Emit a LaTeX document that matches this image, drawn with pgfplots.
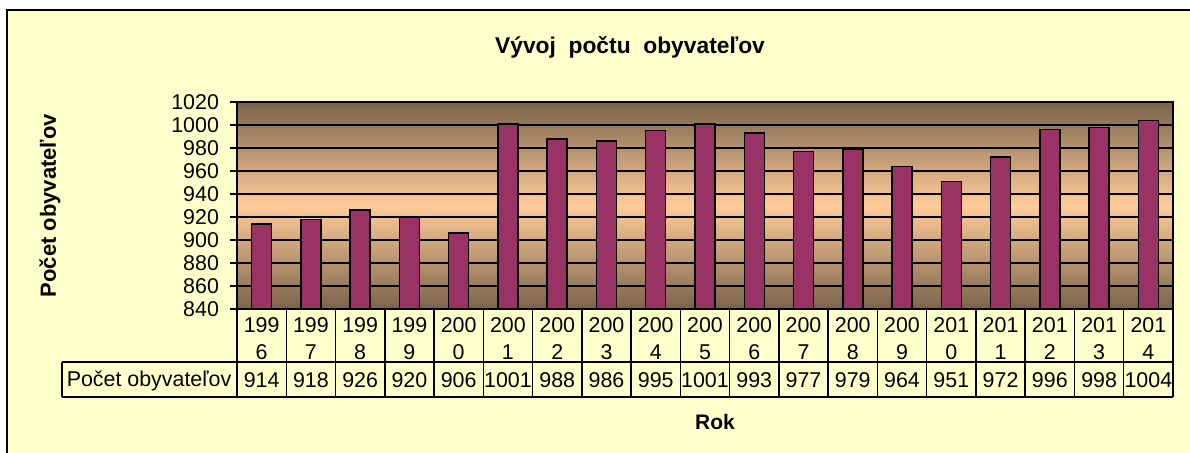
\documentclass[border=0pt]{standalone}
\usepackage{pgfplots}
\pgfplotsset{compat=1.18}
\usepackage{pgfplotstable}
\usepackage{fontspec}
\setmainfont{Liberation Sans}
\definecolor{bgyellow}{HTML}{FFFFCC}
\definecolor{darkbrown}{HTML}{7A634B}
\definecolor{peach}{HTML}{FFCC99}
\definecolor{barcol}{HTML}{993366}
\pgfplotstableread{
x y
0 914
1 918
2 926
3 920
4 906
5 1001
6 988
7 986
8 995
9 1001
10 993
11 977
12 979
13 964
14 951
15 972
16 996
17 998
18 1004
}\data
\begin{document}
\begin{tikzpicture}
\useasboundingbox (0,0) rectangle (595pt,226.5pt);
\fill[bgyellow] (3.5pt,-20pt) rectangle (700pt,221.5pt);
\draw[line width=1pt] (3.5pt,-20pt) -- (3.5pt,221.5pt) -- (700pt,221.5pt);
\begin{axis}[
  at={(118.5pt,72pt)}, anchor=south west,
  scale only axis, width=468pt, height=103.5pt,
  xmin=-0.5, xmax=18.5, ymin=840, ymax=1020,
  ytick={840,860,...,1020},
  xtick={0,...,18},
  xticklabels={{199\\[2.5pt]6\\[3pt]914},{199\\[2.5pt]7\\[3pt]918},{199\\[2.5pt]8\\[3pt]926},{199\\[2.5pt]9\\[3pt]920},{200\\[2.5pt]0\\[3pt]906},{200\\[2.5pt]1\\[3pt]1001},{200\\[2.5pt]2\\[3pt]988},{200\\[2.5pt]3\\[3pt]986},{200\\[2.5pt]4\\[3pt]995},{200\\[2.5pt]5\\[3pt]1001},{200\\[2.5pt]6\\[3pt]993},{200\\[2.5pt]7\\[3pt]977},{200\\[2.5pt]8\\[3pt]979},{200\\[2.5pt]9\\[3pt]964},{201\\[2.5pt]0\\[3pt]951},{201\\[2.5pt]1\\[3pt]972},{201\\[2.5pt]2\\[3pt]996},{201\\[2.5pt]3\\[3pt]998},{201\\[2.5pt]4\\[3pt]1004}},
  xticklabel style={anchor=north, align=center, inner sep=0pt, yshift=-0.5pt, font=\fontsize{10.7}{11}\selectfont},
  x tick style={draw=none},
  yticklabel style={font=\fontsize{10.7}{12.8}\selectfont, xshift=-2pt},
  /pgf/number format/assume math mode=true,
  /pgf/number format/set thousands separator={},
  ytick pos=left, tick align=outside, major tick length=3.5pt,
  tick style={black, line width=0.75pt},
  ymajorgrids, grid style={black, line width=0.75pt},
  axis line style={black, line width=1pt},
  axis background/.style={top color=darkbrown, bottom color=darkbrown, middle color=peach},
  ybar, bar width=10pt,
  ylabel={Počet obyvateľov},
  every axis y label/.style={at={(axis description cs:-0.1998,0.5)}, rotate=90, anchor=center, font=\bfseries\fontsize{11}{13}\selectfont},
  xlabel={Rok},
  every axis x label/.style={at={(axis description cs:0.5107,-0.546)}, anchor=center, font=\bfseries\fontsize{10.5}{12}\selectfont},
  title={Vývoj\ \ počtu\ \ obyvateľov},
  every axis title/.style={at={(axis description cs:0.4199,1.2657)}, anchor=center, font=\bfseries\fontsize{11.4}{13}\selectfont},
]
\addplot[fill=barcol, draw=black, line width=0.75pt] table[x=x, y=y] {\data};
\end{axis}
% data table grid
\foreach \k in {0,...,19} {
  \draw[black, line width=0.75pt] ({118.5pt+\k*24.631579pt},72pt) -- ({118.5pt+\k*24.631579pt},28pt);
}
\draw[black, line width=0.75pt] (31pt,45.5pt) -- (586.5pt,45.5pt);
\draw[black, line width=0.75pt] (31pt,28pt) -- (586.5pt,28pt);
\draw[black, line width=0.75pt] (31pt,45.5pt) -- (31pt,28pt);
\node[anchor=base, inner sep=0pt, font=\fontsize{10.7}{12.8}\selectfont] at (74.5pt,33.25pt) {Počet obyvateľov};
\end{tikzpicture}
\end{document}
